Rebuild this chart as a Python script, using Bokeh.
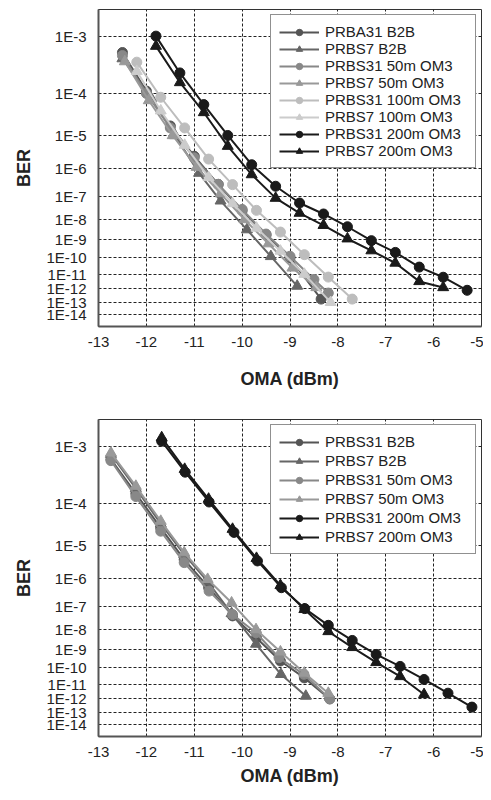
import numpy as np
from bokeh.plotting import figure
from bokeh.layouts import column
from bokeh.models import FixedTicker, Range1d, CustomJSTickFormatter
from bokeh.embed import file_html
from bokeh.resources import INLINE

# ---------------- data (x = OMA dBm, y = log10(BER)) ----------------
x_ticks = [-13, -12, -11, -10, -9, -8, -7, -6, -5]
ber_exp_ticks = [-3, -4, -5, -6, -7, -8, -9, -10, -11, -12, -13, -14]

# top chart
t_x_b2b31 = [-12.5, -12.0, -11.5, -11.0, -10.5, -10.0, -9.5, -9.0, -8.35]
t_y_b2b31 = [-3.25, -3.95, -4.75, -5.6, -6.55, -7.6, -8.75, -10.0, -12.75]
t_x_b2b7 = [-12.5, -11.9, -11.4, -10.9, -10.45, -9.9, -9.4, -8.85]
t_y_b2b7 = [-3.35, -4.1, -5.0, -6.15, -7.19, -8.48, -9.91, -11.8]
t_x_50m31 = [-12.5, -12.0, -11.5, -11.0, -10.5, -10.0, -9.5, -9.0, -8.5, -8.2]
t_y_50m31 = [-3.3, -4.0, -4.8, -5.65, -6.55, -7.55, -8.7, -9.9, -11.35, -12.3]
t_x_50m7 = [-12.45, -11.95, -11.45, -10.95, -10.45, -9.95, -9.45, -8.95, -8.45]
t_y_50m7 = [-3.4, -4.15, -5.0, -5.95, -6.9, -8.0, -9.2, -10.6, -11.9]
t_x_100m31 = [-12.2, -11.7, -11.2, -10.7, -10.2, -9.7, -9.2, -8.7, -8.2, -7.7]
t_y_100m31 = [-3.41, -4.08, -4.8, -5.69, -6.56, -7.59, -8.6, -9.81, -11.19, -12.75]
t_x_100m7 = [-12.2, -11.7, -11.2, -10.7, -10.2, -9.7, -9.2, -8.7, -8.15]
t_y_100m7 = [-3.57, -4.38, -5.27, -6.3, -7.3, -8.4, -9.6, -11.0, -13.0]
t_x_200m31 = [-11.8, -11.3, -10.8, -10.3, -9.8, -9.3, -8.8, -8.3, -7.8, -7.3, -6.8, -6.3, -5.8, -5.3]
t_y_200m31 = [-3.0, -3.6, -4.24, -5.0, -5.87, -6.62, -7.28, -7.75, -8.34, -9.04, -9.68, -10.55, -11.2, -12.1]
t_x_200m7 = [-11.8, -11.3, -10.8, -10.3, -9.8, -9.3, -8.8, -8.3, -7.8, -7.3, -6.8, -6.3, -5.8]
t_y_200m7 = [-3.15, -3.78, -4.42, -5.3, -6.2, -7.08, -7.71, -8.27, -8.94, -9.58, -10.3, -11.48, -11.9]

# bottom chart
b_x_b2b31 = [-12.74, -12.22, -11.7, -11.21, -10.7, -10.2, -9.7, -9.2, -8.7, -8.17]
b_y_b2b31 = [-3.2, -3.8, -4.55, -5.4, -6.3, -7.4, -8.4, -9.6, -10.6, -12.0]
b_x_b2b7 = [-12.74, -12.22, -11.7, -11.21, -10.72, -10.22, -9.71, -9.19, -8.67]
b_y_b2b7 = [-3.12, -3.7, -4.45, -5.25, -6.1, -7.3, -8.7, -10.38, -11.8]
b_x_50m31 = [-12.74, -12.22, -11.7, -11.21, -10.69, -10.2, -9.71, -9.23, -8.71, -8.17]
b_y_50m31 = [-3.22, -3.86, -4.63, -5.49, -6.43, -7.34, -8.15, -9.42, -10.38, -12.0]
b_x_50m7 = [-12.74, -12.22, -11.7, -11.21, -10.72, -10.22, -9.71, -9.2, -8.7, -8.2]
b_y_50m7 = [-3.1, -3.66, -4.39, -5.2, -6.02, -6.87, -8.0, -9.1, -10.3, -11.6]
b_x_200m31 = [-11.68, -11.19, -10.69, -10.17, -9.68, -9.18, -8.69, -8.2, -7.7, -7.2, -6.7, -6.2, -5.7, -5.2]
b_y_200m31 = [-2.93, -3.41, -3.97, -4.66, -5.44, -6.31, -7.1, -7.81, -8.52, -9.24, -9.91, -10.7, -11.6, -12.6]
b_x_200m7 = [-11.68, -11.2, -10.7, -10.2, -9.7, -9.2, -8.7, -8.2, -7.7, -7.2, -6.7, -6.2]
b_y_200m7 = [-2.88, -3.36, -3.91, -4.58, -5.36, -6.23, -7.13, -8.09, -8.87, -9.68, -10.51, -11.69]

top_series = [
    ("PRBA31 B2B", t_x_b2b31, t_y_b2b31, "#555555", "circle"),
    ("PRBS7 B2B", t_x_b2b7, t_y_b2b7, "#666666", "triangle"),
    ("PRBS31 50m OM3", t_x_50m31, t_y_50m31, "#888888", "circle"),
    ("PRBS7 50m OM3", t_x_50m7, t_y_50m7, "#999999", "triangle"),
    ("PRBS31 100m OM3", t_x_100m31, t_y_100m31, "#bdbdbd", "circle"),
    ("PRBS7 100m OM3", t_x_100m7, t_y_100m7, "#cccccc", "triangle"),
    ("PRBS31 200m OM3", t_x_200m31, t_y_200m31, "#1a1a1a", "circle"),
    ("PRBS7 200m OM3", t_x_200m7, t_y_200m7, "#1a1a1a", "triangle"),
]
bottom_series = [
    ("PRBS31 B2B", b_x_b2b31, b_y_b2b31, "#555555", "circle"),
    ("PRBS7 B2B", b_x_b2b7, b_y_b2b7, "#666666", "triangle"),
    ("PRBS31 50m OM3", b_x_50m31, b_y_50m31, "#888888", "circle"),
    ("PRBS7 50m OM3", b_x_50m7, b_y_50m7, "#999999", "triangle"),
    ("PRBS31 200m OM3", b_x_200m31, b_y_200m31, "#1a1a1a", "circle"),
    ("PRBS7 200m OM3", b_x_200m7, b_y_200m7, "#1a1a1a", "triangle"),
]

SHIFT = 0.7  # BER axis: y = -log10(-log10(BER) - SHIFT)


def ber_scale(logber):
    return list(-np.log10(-np.asarray(logber, dtype=float) - SHIFT))


FONT = "Liberation Sans"


def make_plot(series, border_top, border_bottom, legend_spacing, xlabel_standoff):
    p = figure(
        output_backend="svg", toolbar_location=None,
        frame_width=383, frame_height=317,
        min_border_left=98, min_border_right=2,
        min_border_top=border_top, min_border_bottom=border_bottom,
        x_range=Range1d(-13, -5),
        y_range=Range1d(ber_scale([-15.02])[0], ber_scale([-2.645])[0]),
        background_fill_color="white", border_fill_color="white",
    )
    p.outline_line_color = "#333333"
    p.outline_line_width = 1

    for label, xs, ys, color, marker in series:
        yy = ber_scale(ys)
        p.line(xs, yy, line_color=color, line_width=2, legend_label=label)
        p.scatter(xs, yy, marker=marker, size=10 if marker == "circle" else 11,
                  fill_color=color, line_color=color, legend_label=label)

    p.xaxis.ticker = FixedTicker(ticks=x_ticks)
    p.xaxis.formatter = CustomJSTickFormatter(code="return tick.toFixed(0);")
    p.yaxis.ticker = FixedTicker(ticks=ber_scale(ber_exp_ticks))
    p.yaxis.formatter = CustomJSTickFormatter(
        code="return '1E-' + Math.round(Math.pow(10, -tick) + %s);" % SHIFT)

    for ax in (p.xaxis[0], p.yaxis[0]):
        ax.axis_line_color = "#555555"
        ax.axis_line_width = 2
        ax.major_tick_line_color = None
        ax.minor_tick_line_color = None
        ax.major_tick_out = 0
        ax.major_tick_in = 0
        ax.major_label_text_font = FONT
        ax.major_label_text_font_size = "15px"
        ax.major_label_text_color = "#222222"
        ax.axis_label_text_font = FONT
        ax.axis_label_text_font_size = "18px"
        ax.axis_label_text_font_style = "bold"
        ax.axis_label_text_color = "#222222"
    p.xaxis.axis_label = "OMA (dBm)"
    p.yaxis.axis_label = "BER"
    p.xaxis.major_label_standoff = 10
    p.xaxis.axis_label_standoff = xlabel_standoff
    p.yaxis.major_label_standoff = 12
    p.yaxis.axis_label_standoff = 9

    for g in (p.xgrid[0], p.ygrid[0]):
        g.grid_line_color = "#222222"
        g.grid_line_width = 1
        g.grid_line_dash = "3 2"

    lg = p.legend[0]
    lg.location = "top_right"
    lg.margin = 5
    lg.padding = 8
    lg.spacing = legend_spacing
    lg.glyph_width = 40
    lg.glyph_height = 16
    lg.label_height = 16
    lg.label_width = 142
    lg.label_standoff = 6
    lg.label_text_font = FONT
    lg.label_text_font_size = "15px"
    lg.label_text_color = "#222222"
    lg.border_line_color = "#222222"
    lg.border_line_width = 1
    lg.background_fill_color = "white"
    lg.background_fill_alpha = 1.0
    return p


p1 = make_plot(top_series, 9, 85, 0, 19)
p2 = make_plot(bottom_series, 8, 56, 2, 6)

layout = column(p1, p2, spacing=0)
open("out.html", "w").write(file_html(layout, INLINE))
